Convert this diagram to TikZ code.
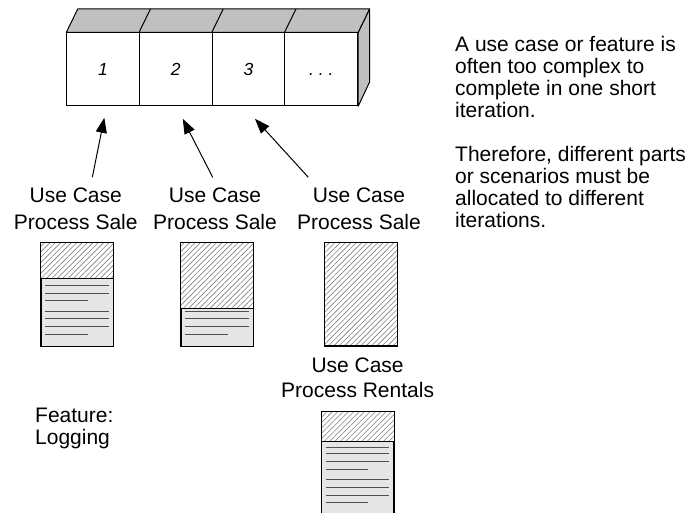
\documentclass[tikz,border=0pt]{standalone}
\usepackage{fontspec}
\setmainfont{Liberation Sans}
\usetikzlibrary{arrows.meta,calc,patterns.meta}
\definecolor{facegray}{HTML}{C0C0C0}
\definecolor{docgray}{HTML}{E6E6E6}
\definecolor{lngray}{HTML}{505050}
\tikzset{
  iterbox/.style={draw, fill=white, line width=1pt, minimum width=72.75pt, minimum height=72.7pt,
    inner sep=0pt, text height=12.5pt, text depth=0pt, font=\fontsize{17.5}{20}\selectfont\itshape},
  face/.style={draw, fill=facegray, line width=1pt, line join=round},
  docbox/.style={draw, fill=docgray, line width=1pt, minimum width=72pt, minimum height=103pt, inner sep=0pt},
  docline/.style={draw=lngray, line width=1pt},
  hatch/.style={pattern={Lines[angle=45,distance=3.8pt,line width=0.6pt]}, pattern color=black!50},
  lbl/.style={inner sep=0pt, align=center, font=\fontsize{21}{26.5}\selectfont},
  txt/.style={inner sep=0pt, align=left, font=\fontsize{21}{21.8}\selectfont},
  arr/.style={line width=1pt, -{Triangle[length=15pt,width=11pt]}}
}
\newcommand\docsheet[2]{%
  \foreach \o/\l in {36/63.5,42.5/63.5,50.5/63.5,58/42.5,68.5/63.5,76/63.5,84/63.5,91.5/42.5}{
    \draw[docline] ($(#1.north west)+(4.5,\o)$) -- ++(\l,0);
  }
  \fill[white] (#1.north west) rectangle ($(#1.north east)+(0,#2)$);
  \fill[hatch] (#1.north west) rectangle ($(#1.north east)+(0,#2)$);
  \draw[line width=1pt] ($(#1.north west)+(0,#2)$) -- ($(#1.north east)+(0,#2)$);
  \draw[line width=1pt] (#1.north west) rectangle (#1.south east);
}
\begin{document}
\begin{tikzpicture}[x=1pt,y=-1pt]
\useasboundingbox (0,0) rectangle (691,513);
\fill[white] (0,0) rectangle (691,513);

% iteration boxes
\node[iterbox] (b1) at (103.1,69.35) {1};
\node[iterbox] (b2) at (175.85,69.35) {2};
\node[iterbox] (b3) at (248.6,69.35) {3};
\node[iterbox] (b4) at (321.35,69.35) {.\ .\ .};
\path[face] (b1.north west) -- ++(11.5,-23.5) -- ($(b4.north east)+(11.5,-23.5)$) -- (b4.north east) -- cycle;
\path[face] (b4.north east) -- ++(11.5,-23.5) -- ++(0,72.7) -- (b4.south east) -- cycle;
\foreach \b in {b2,b3,b4}{
  \draw[line width=1pt] (\b.north west) -- ++(11.5,-23.5);
}

% documents
\node[docbox] (d1) at (77,294.5) {};
\docsheet{d1}{36}
\node[docbox] (d2) at (217,294.5) {};
\docsheet{d2}{66}
\node[docbox] (d3) at (361,294.5) {};
\docsheet{d3}{103}
\node[docbox] (d4) at (357.5,463.2) {};
\docsheet{d4}{30}

% labels
\node[lbl, anchor=north] (l1) at (75.7,188) {Use Case\\Process Sale};
\node[lbl, anchor=north] (l2) at (215,188) {Use Case\\Process Sale};
\node[lbl, anchor=north] (l3) at (359,188) {Use Case\\Process Sale};
\node[lbl, anchor=north, font=\fontsize{21}{25}\selectfont] (l4) at (357.6,358) {Use Case\\Process Rentals};
\node[txt, anchor=north west] (feat) at (35,408) {Feature:\\Logging};
\node[txt, anchor=north west] (note) at (455,36.3) {A use case or feature is\\often too complex to\\complete in one short\\iteration.\\[23pt]Therefore, different parts\\or scenarios must be\\allocated to different\\iterations.};

% arrows
\draw[arr] ($(l1.north)+(16.6,-10.7)$) -- ($(b1.south)+(1.2,11.6)$);
\draw[arr] ($(l2.north)+(-2.3,-10.7)$) -- ($(b2.south)+(6.9,12.6)$);
\draw[arr] ($(l3.north)+(-50.7,-10.7)$) -- ($(b3.south)+(6.4,12.6)$);
\end{tikzpicture}
\end{document}
